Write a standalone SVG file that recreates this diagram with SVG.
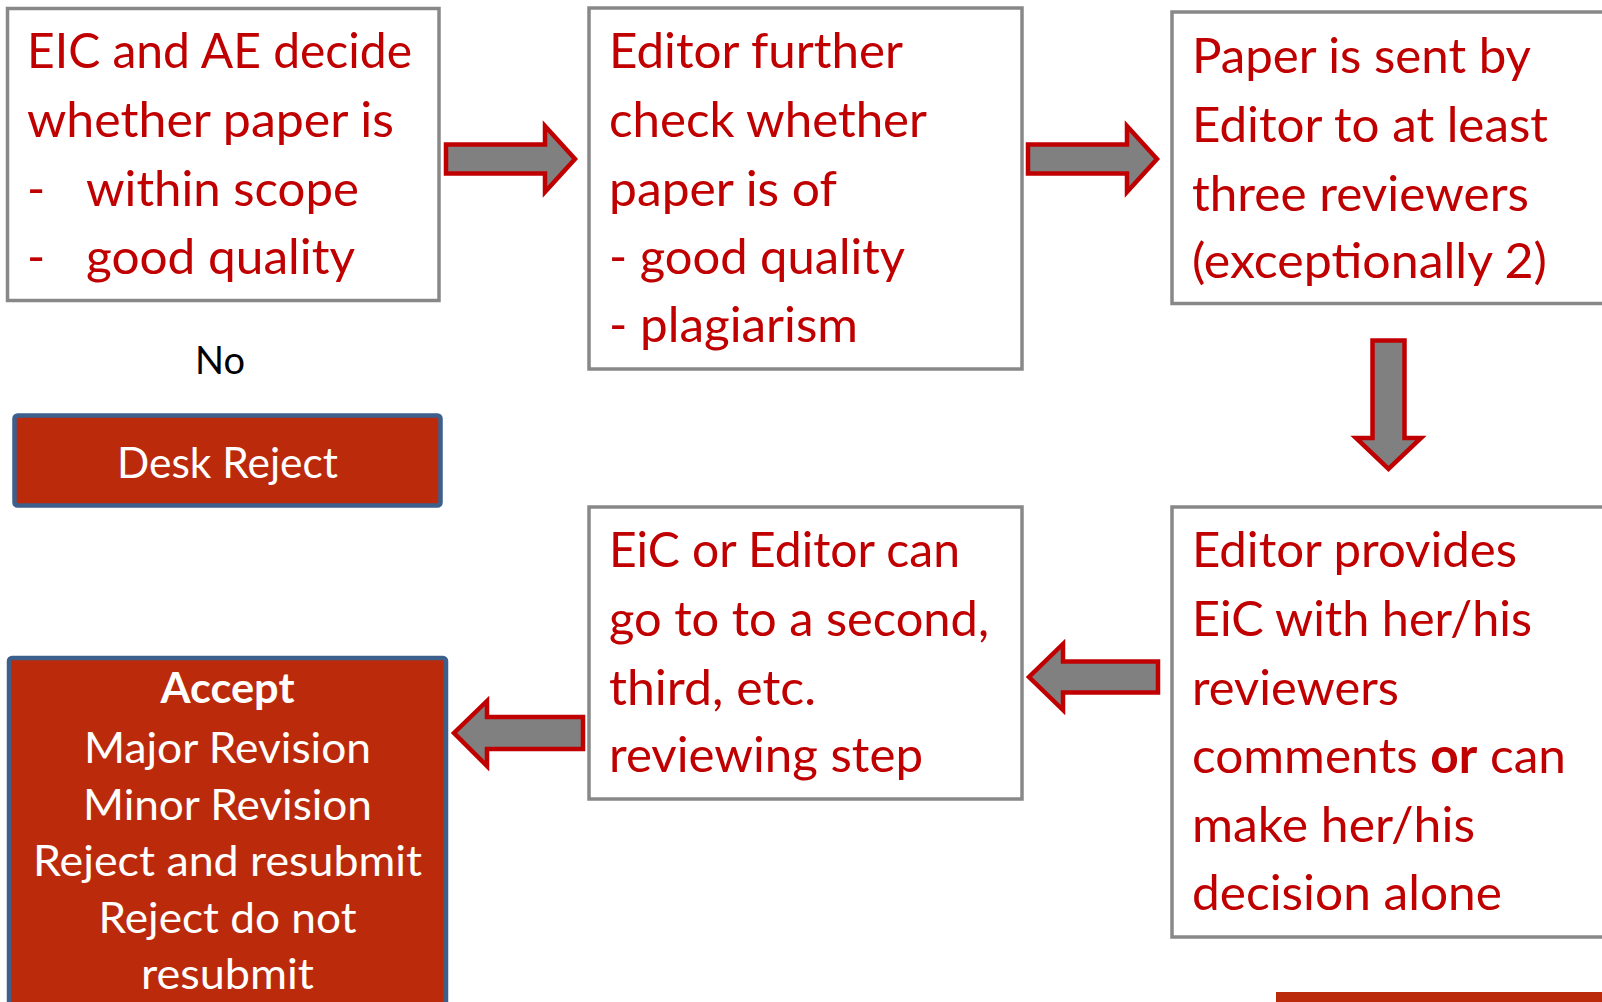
<svg xmlns="http://www.w3.org/2000/svg" width="1602" height="1002" viewBox="0 0 1602 1002">
<style>
.box{fill:#ffffff;stroke:#888888;stroke-width:3.5}
.dec{fill:#BC2A0C;stroke:#3C5F8C;stroke-width:4.5}
.t{font-family:Lato,"Open Sans","Liberation Sans",sans-serif;font-size:49px;fill:#C00000}
.w{font-family:Lato,"Open Sans","Liberation Sans",sans-serif;font-size:42px;fill:#ffffff;text-anchor:middle}
.arr{fill:#808080;stroke:#C00000;stroke-width:4.5}
</style>
<rect width="1602" height="1002" fill="#ffffff"/>
<g id="connectors">
<path class="arr" d="M446,144.5 H545 V126 L575,159 L545,192 V173.5 H446 Z"/>
<path class="arr" d="M1028,144.5 H1127 V126 L1157,159 L1127,192 V173.5 H1028 Z"/>
<path class="arr" d="M1372.5,340.5 H1404.5 V438 H1421 L1388.5,469 L1356,438 H1372.5 Z"/>
<path class="arr" d="M1158,661.5 H1063 V644 L1029,677 L1063,710 V692.5 H1158 Z"/>
<path class="arr" d="M583,717 H487 V701 L454,733 L487,766 V749 H583 Z"/>
</g>
<g id="node-scope">
<rect class="box" x="7.5" y="8.5" width="431.5" height="292"/>
<text class="t" x="27" y="68" textLength="385" lengthAdjust="spacingAndGlyphs">EIC and AE decide</text>
<text class="t" x="27" y="137" textLength="367" lengthAdjust="spacingAndGlyphs">whether paper is</text>
<text class="t" x="27" y="206">-</text>
<text class="t" x="86" y="206" textLength="273" lengthAdjust="spacingAndGlyphs">within scope</text>
<text class="t" x="27" y="274">-</text>
<text class="t" x="86" y="274" textLength="269" lengthAdjust="spacingAndGlyphs">good quality</text>
</g>
<g id="label-no">
<text x="220" y="374" font-family="Lato,'Open Sans',sans-serif" font-size="38" fill="#000000" text-anchor="middle">No</text>
</g>
<g id="node-desk-reject">
<rect class="dec" x="14.5" y="415.5" width="426" height="90" rx="3"/>
<text class="w" x="227.5" y="478" font-size="39" textLength="221" lengthAdjust="spacingAndGlyphs">Desk Reject</text>
</g>
<g id="node-editor-check">
<rect class="box" x="589" y="8" width="433" height="361"/>
<text class="t" x="609" y="68" textLength="294" lengthAdjust="spacingAndGlyphs">Editor further</text>
<text class="t" x="609" y="137" textLength="318" lengthAdjust="spacingAndGlyphs">check whether</text>
<text class="t" x="609" y="206" textLength="228" lengthAdjust="spacingAndGlyphs">paper is of</text>
<text class="t" x="609" y="274" textLength="296" lengthAdjust="spacingAndGlyphs">- good quality</text>
<text class="t" x="609" y="342" textLength="249" lengthAdjust="spacingAndGlyphs">- plagiarism</text>
</g>
<g id="node-reviewers">
<rect class="box" x="1172" y="12" width="500" height="291.5"/>
<text class="t" x="1192" y="73" textLength="339" lengthAdjust="spacingAndGlyphs">Paper is sent by</text>
<text class="t" x="1192" y="142" textLength="356" lengthAdjust="spacingAndGlyphs">Editor to at least</text>
<text class="t" x="1192" y="211" textLength="337" lengthAdjust="spacingAndGlyphs">three reviewers</text>
<text class="t" x="1192" y="278" textLength="355" lengthAdjust="spacingAndGlyphs">(exceptionally 2)</text>
</g>
<g id="node-editor-provides">
<rect class="box" x="1172" y="507" width="500" height="430"/>
<text class="t" x="1192" y="567" textLength="325" lengthAdjust="spacingAndGlyphs">Editor provides</text>
<text class="t" x="1192" y="636" textLength="340" lengthAdjust="spacingAndGlyphs">EiC with her/his</text>
<text class="t" x="1192" y="705" textLength="207" lengthAdjust="spacingAndGlyphs">reviewers</text>
<text class="t" x="1192" y="773" textLength="374" lengthAdjust="spacingAndGlyphs">comments <tspan font-weight="bold">or</tspan> can</text>
<text class="t" x="1192" y="842" textLength="283" lengthAdjust="spacingAndGlyphs">make her/his</text>
<text class="t" x="1192" y="910" textLength="310" lengthAdjust="spacingAndGlyphs">decision alone</text>
</g>
<g id="node-second-step">
<rect class="box" x="589" y="507" width="433" height="292"/>
<text class="t" x="609" y="567" textLength="351" lengthAdjust="spacingAndGlyphs">EiC or Editor can</text>
<text class="t" x="609" y="636" textLength="380" lengthAdjust="spacingAndGlyphs">go to to a second,</text>
<text class="t" x="609" y="705" textLength="207" lengthAdjust="spacingAndGlyphs">third, etc.</text>
<text class="t" x="609" y="772" textLength="314" lengthAdjust="spacingAndGlyphs">reviewing step</text>
</g>
<g id="node-decision">
<rect class="dec" x="9" y="658" width="437" height="400" rx="3"/>
<text class="w" x="227.5" y="703" font-weight="bold" textLength="134" lengthAdjust="spacingAndGlyphs">Accept</text>
<text class="w" x="227.5" y="763" textLength="287" lengthAdjust="spacingAndGlyphs">Major Revision</text>
<text class="w" x="227.5" y="820" textLength="289" lengthAdjust="spacingAndGlyphs">Minor Revision</text>
<text class="w" x="227.5" y="876" textLength="389" lengthAdjust="spacingAndGlyphs">Reject and resubmit</text>
<text class="w" x="227.5" y="933" textLength="258" lengthAdjust="spacingAndGlyphs">Reject do not</text>
<text class="w" x="227.5" y="989" textLength="173" lengthAdjust="spacingAndGlyphs">resubmit</text>
</g>
<g id="node-partial">
<rect x="1276" y="992" width="330" height="20" fill="#BC2A0C"/>
</g>
</svg>
